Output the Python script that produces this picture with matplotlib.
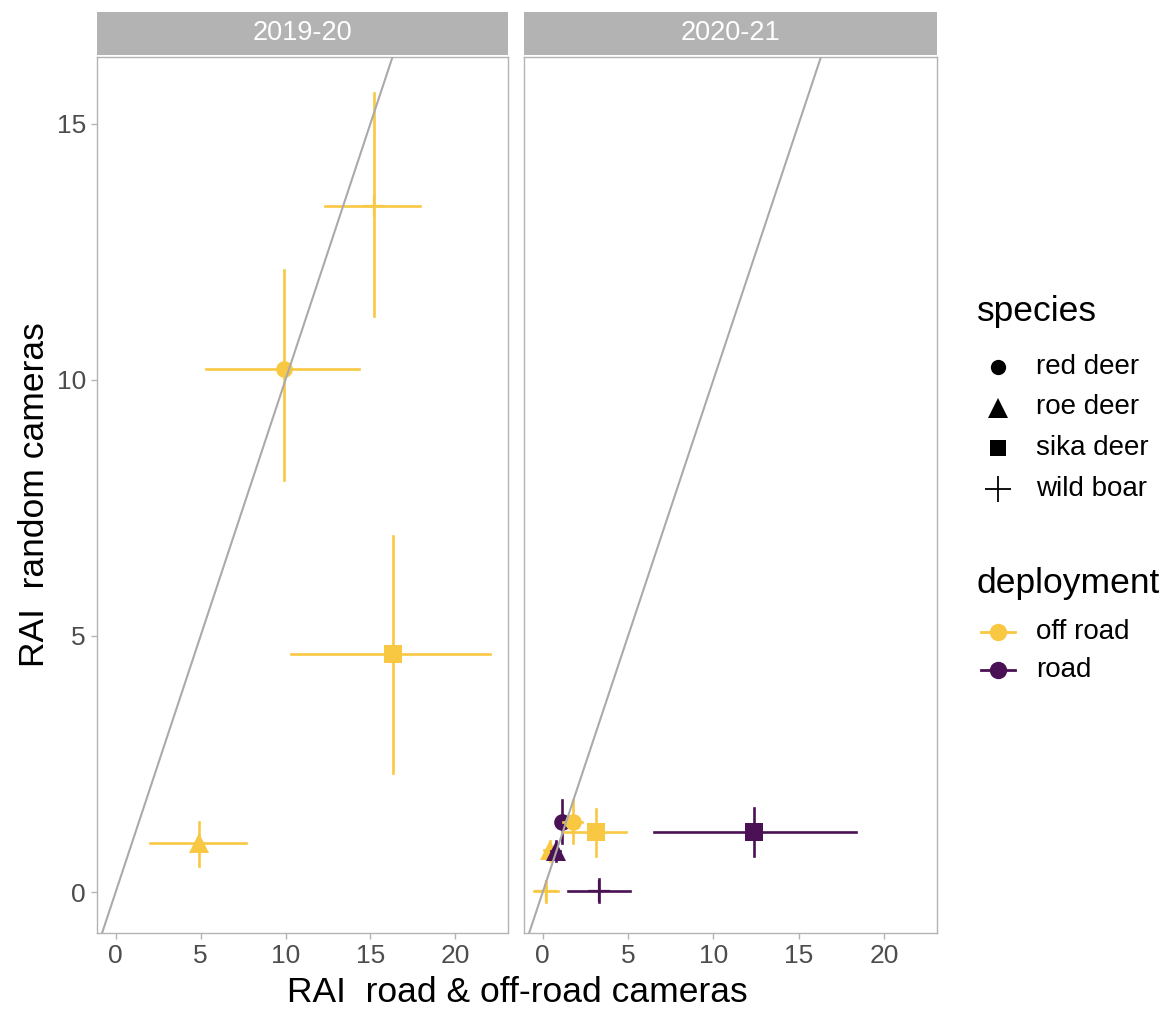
import matplotlib
matplotlib.use("Agg")
import matplotlib.pyplot as plt

plt.rcParams['font.family'] = ['Liberation Sans', 'DejaVu Sans']

# data (mean, lower, upper)
seasons = ["2019-20", "2020-21"]
species = ["red deer", "roe deer", "sika deer", "wild boar"]
deployments = ["off road", "road"]

# one row per point: season, species, deployment
pt_season = [0, 0, 0, 0, 1, 1, 1, 1, 1, 1, 1, 1]
pt_species = ["red deer", "roe deer", "sika deer", "wild boar",
              "red deer", "roe deer", "sika deer", "wild boar",
              "red deer", "roe deer", "sika deer", "wild boar"]
pt_deploy = ["off road"] * 8 + ["road"] * 4
x_mid = [9.9, 4.9, 16.3, 15.2, 1.75, 0.4, 3.1, 0.2, 1.15, 0.75, 12.4, 3.3]
x_lo = [5.3, 2.05, 10.35, 12.3, 1.2, 0.1, 1.15, -0.5, 0.9, 0.5, 6.5, 1.45]
x_hi = [14.3, 7.65, 22.05, 17.9, 2.3, 0.7, 4.85, 0.9, 1.4, 1.0, 18.35, 5.1]
y_mid = [10.2, 0.95, 4.65, 13.4, 1.37, 0.82, 1.17, 0.02, 1.37, 0.8, 1.17, 0.02]
y_lo = [8.05, 0.5, 2.32, 11.25, 0.95, 0.6, 0.7, -0.19, 0.95, 0.6, 0.7, -0.2]
y_hi = [12.15, 1.37, 6.95, 15.6, 1.8, 1.0, 1.62, 0.2, 1.8, 1.0, 1.64, 0.25]

colors = {"off road": "#F8C843", "road": "#4A1155"}
markers = {"red deer": "o", "roe deer": "^", "sika deer": "s", "wild boar": "+"}
msizes = {"red deer": 12, "roe deer": 15, "sika deer": 13, "wild boar": 16}

fig = plt.figure(figsize=(11.68, 10.10), dpi=100)
W, H = 1168, 1010
panel_px = [(97, 508), (524, 937)]
top_px, bot_px = 57, 933
tick_col = "#4d4d4d"

for i, (l, r) in enumerate(panel_px):
    ax = fig.add_axes([l / W, 1 - bot_px / H, (r - l) / W, (bot_px - top_px) / H])
    ax.set_xlim(-1.1, 23.1)
    ax.set_ylim(-0.8, 16.3)
    ax.plot([-5, 30], [-5, 30], color="#aaaaaa", lw=1.5, zorder=5)
    for k in range(len(x_mid)):
        if pt_season[k] != i:
            continue
        c = colors[pt_deploy[k]]
        sp = pt_species[k]
        # road red deer sits under the off-road one, road roe deer on top
        z = 2
        if pt_deploy[k] == "road" and sp == "red deer":
            z = 1
        ax.plot([x_lo[k], x_hi[k]], [y_mid[k]] * 2, color=c, lw=1.9, zorder=z)
        ax.plot([x_mid[k]] * 2, [y_lo[k], y_hi[k]], color=c, lw=1.9, zorder=z)
        ax.plot(x_mid[k], y_mid[k], marker=markers[sp], ms=msizes[sp],
                color=c, mew=1.6 if sp == "wild boar" else 0, ls="none", zorder=z)
    ax.set_xticks([0, 5, 10, 15, 20])
    ax.set_yticks([0, 5, 10, 15])
    ax.tick_params(colors="#b3b3b3", labelcolor=tick_col, labelsize=19,
                   length=4, width=1, pad=4)
    if i == 1:
        ax.tick_params(axis="y", left=False, labelleft=False)
    for s in ax.spines.values():
        s.set_color("#b3b3b3")
        s.set_linewidth(1.0)
    # facet strip
    sax = fig.add_axes([l / W, 1 - 55 / H, (r - l) / W, 43 / H])
    sax.set_facecolor("#b3b3b3")
    sax.set_xticks([])
    sax.set_yticks([])
    for s in sax.spines.values():
        s.set_visible(False)
    sax.text(0.5, 0.5, seasons[i], color="white", fontsize=19.5,
             ha="center", va="center", transform=sax.transAxes)

fig.text(517 / W, 1 - 992 / H, "RAI  road & off-road cameras", fontsize=25.5,
         ha="center", va="center")
fig.text(35 / W, 1 - 495 / H, "RAI  random cameras", fontsize=25.5,
         ha="center", va="center", rotation=90)

# legends, placed in pixel coords
lax = fig.add_axes([0, 0, 1, 1], facecolor="none")
lax.set_xlim(0, W)
lax.set_ylim(H, 0)
lax.axis("off")
lax.text(977, 312, "species", fontsize=25.5, va="center", ha="left")
for j, s in enumerate(species):
    yy = 367 + j * 40.5
    lax.plot(998, yy, marker=markers[s], ms=msizes[s] - 1 if s != "wild boar" else 19,
             color="black", mew=1.3 if s == "wild boar" else 0, ls="none")
    lax.text(1036, yy, s, fontsize=20, va="center", ha="left")
lax.text(977, 583, "deployment", fontsize=25.5, va="center", ha="left")
for j, d in enumerate(deployments):
    yy = 632 + j * 38
    lax.plot([981, 1015], [yy, yy], color=colors[d], lw=2)
    lax.plot(998, yy, marker="o", ms=12.5, color=colors[d], mew=0, ls="none")
    lax.text(1036, yy, d, fontsize=20, va="center", ha="left")

plt.savefig("out.png", dpi=100)
